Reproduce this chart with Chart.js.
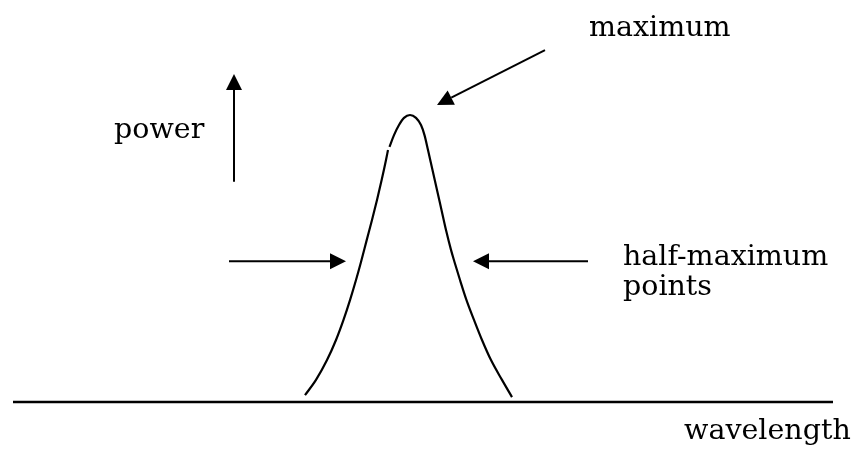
<!DOCTYPE html>
<html>
<head>
<meta charset="utf-8">
<title>Spectral line width</title>
<script src="https://cdn.jsdelivr.net/npm/chart.js@4/dist/chart.umd.min.js"></script>
<style>
  html, body { margin: 0; padding: 0; background: #fff; }
  #wrap { width: 861px; height: 451px; }
</style>
</head>
<body>
<div id="wrap"><canvas id="lineChart" width="861" height="451"></canvas></div>
<script>
// Emission line: wavelength (arb. units) vs normalised power
const wavelength = [292, 303, 314, 323, 330.5, 337, 343, 348, 353.7, 359, 364, 368.7, 373, 375, null,
                    376.5, 381, 386, 391, 397,
                    403, 408, 411.5, 415, 419.5, 424, 428.5, 433, 438, 441.5, 447, 453.5, 461, 469, 478, 489, 499];
const power = [0.024, 0.077, 0.146, 0.216, 0.286, 0.355, 0.425, 0.488, 0.564, 0.634, 0.704, 0.774, 0.843, 0.878, null,
               0.889, 0.930, 0.965, 0.990, 1.000,
               0.990, 0.965, 0.930, 0.878, 0.808, 0.739, 0.669, 0.599, 0.530, 0.488, 0.425, 0.355, 0.286, 0.216, 0.146, 0.077, 0.017];
const axisRange = [0, 820];

// Callout arrows [x1, y1, x2, y2] in data units, head at the second point
const arrows = [
    [221, 0.767, 221, 1.143],   // power axis direction
    [532, 1.226, 424, 1.035],   // pointing at the maximum
    [216, 0.49, 333, 0.49],     // left half-maximum point
    [575, 0.49, 460, 0.49]      // right half-maximum point
];

// Labels [text, x, y] in data units (left edge, baseline)
const labels = [
    ['maximum', 576, 1.275],
    ['power', 101, 0.920],
    ['half-maximum', 610, 0.477],
    ['points', 610, 0.373],
    ['wavelength', 671, -0.129]
];

const curve = wavelength.map((x, i) => x === null ? { x: null, y: null } : { x: x, y: power[i] });

const annotate = {
    id: 'annotate',
    afterDatasetsDraw(chart) {
        const c = chart.ctx;
        const xs = chart.scales.x, ys = chart.scales.y;
        c.save();
        c.strokeStyle = '#000';
        c.fillStyle = '#000';
        c.lineWidth = 2;
        arrows.forEach(([x1, y1, x2, y2]) => {
            const ax = xs.getPixelForValue(x1), ay = ys.getPixelForValue(y1);
            const bx = xs.getPixelForValue(x2), by = ys.getPixelForValue(y2);
            const ang = Math.atan2(by - ay, bx - ax);
            const len = 16, half = 8;
            const hx = bx - len * Math.cos(ang), hy = by - len * Math.sin(ang);
            c.beginPath();
            c.moveTo(ax, ay);
            c.lineTo(hx, hy);
            c.stroke();
            c.beginPath();
            c.moveTo(bx, by);
            c.lineTo(hx + half * Math.sin(ang), hy - half * Math.cos(ang));
            c.lineTo(hx - half * Math.sin(ang), hy + half * Math.cos(ang));
            c.closePath();
            c.fill();
        });
        c.font = '28.5px "DejaVu Serif", serif';
        c.textBaseline = 'alphabetic';
        c.textAlign = 'left';
        labels.forEach(([t, x, y]) => {
            c.fillText(t, xs.getPixelForValue(x), ys.getPixelForValue(y));
        });
        c.restore();
    }
};

new Chart(document.getElementById('lineChart'), {
    type: 'line',
    data: {
        datasets: [{
            data: curve,
            borderColor: '#000',
            borderWidth: 2.2,
            pointRadius: 0,
            cubicInterpolationMode: 'monotone',
            spanGaps: false,
            clip: false
        }, {
            // wavelength axis
            data: [{ x: axisRange[0], y: 0 }, { x: axisRange[1], y: 0 }],
            borderColor: '#000',
            borderWidth: 2.5,
            pointRadius: 0,
            clip: false
        }]
    },
    options: {
        responsive: false,
        animation: false,
        layout: { padding: { left: 13, right: 28, top: 115, bottom: 49 } },
        scales: {
            x: { type: 'linear', min: axisRange[0], max: axisRange[1], display: false },
            y: { min: 0, max: 1, display: false }
        },
        plugins: { legend: { display: false }, tooltip: { enabled: false } }
    },
    plugins: [annotate]
});
</script>
</body>
</html>
